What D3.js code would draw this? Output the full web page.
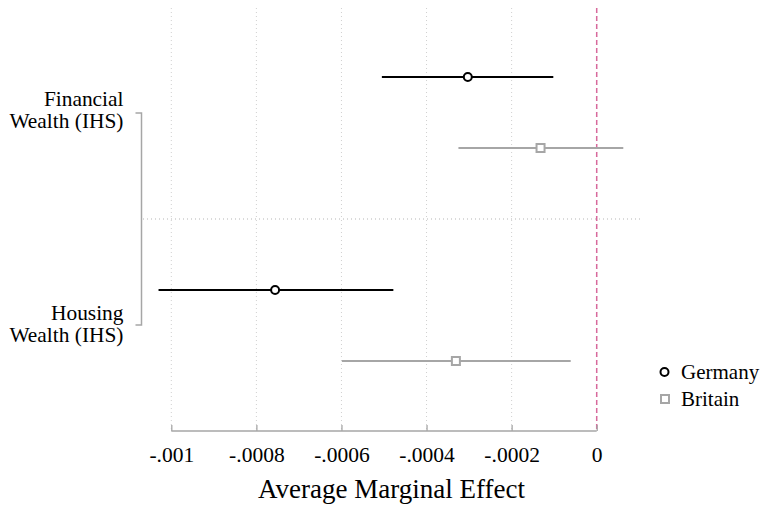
<!DOCTYPE html>
<html>
<head>
<meta charset="utf-8">
<script src="https://cdn.jsdelivr.net/npm/d3@7"></script>
<style>
  html, body { margin: 0; padding: 0; background: #fff; }
</style>
</head>
<body>
<svg id="chart" width="762" height="505"></svg>
<script>
// Coefficient plot: average marginal effects with confidence intervals
const variables = ["Financial\nWealth (IHS)", "Housing\nWealth (IHS)"];
const countries = ["Germany", "Britain"];
const estimates = {
  Germany: [-0.000303, -0.000756],
  Britain: [-0.000132, -0.000331]
};
const lowerCI = {
  Germany: [-0.000505, -0.00103],
  Britain: [-0.000325, -0.000599]
};
const upperCI = {
  Germany: [-0.000102, -0.000478],
  Britain: [0.0000625, -0.0000611]
};
const xTicks = [-0.001, -0.0008, -0.0006, -0.0004, -0.0002, 0];
const xTickLabels = ["-.001", "-.0008", "-.0006", "-.0004", "-.0002", "0"];

const FONT = "'Liberation Serif'";
const svg = d3.select("#chart");
const x = d3.scaleLinear().domain([-0.001, 0]).range([171.3, 596.7]);
// row slots: two per variable with an empty slot between the groups
const y = d3.scaleLinear().domain([0, 4]).range([77, 361]);
const rowIndex = (vi, ci) => vi * 3 + ci;

const plotTop = 8, axisY = 431, plotLeft = 143, plotRight = 640;
const colors = { Germany: "#000000", Britain: "#a6a6a6" };

// vertical dotted gridlines
svg.append("g").selectAll("line").data(xTicks).join("line")
  .attr("x1", d => x(d)).attr("x2", d => x(d))
  .attr("y1", plotTop).attr("y2", axisY)
  .attr("stroke", "#d0d0d0").attr("stroke-width", 1)
  .attr("stroke-dasharray", "1,3");

// separator between variable groups
svg.append("line")
  .attr("x1", plotLeft).attr("x2", plotRight)
  .attr("y1", y(2)).attr("y2", y(2))
  .attr("stroke", "#b5b5b5").attr("stroke-width", 1)
  .attr("stroke-dasharray", "1,3");

// reference line at zero
svg.append("line")
  .attr("x1", x(0)).attr("x2", x(0))
  .attr("y1", plotTop).attr("y2", axisY)
  .attr("stroke", "#d8699c").attr("stroke-width", 1.5)
  .attr("stroke-dasharray", "5,3");

// x axis
const xAxis = d3.axisBottom(x).tickValues(xTicks)
  .tickFormat((d, i) => xTickLabels[i]).tickSize(6).tickPadding(5);
const gx = svg.append("g").attr("transform", `translate(0,${axisY})`).call(xAxis);
gx.select(".domain").attr("stroke", "#a6a6a6").attr("stroke-width", 1.3)
  .attr("d", `M${x(-0.001)},0H${x(0)}`);
gx.selectAll(".tick line").attr("stroke", "#a6a6a6").attr("stroke-width", 1.3)
  .attr("y1", -6).attr("y2", 0);
gx.selectAll(".tick text").attr("fill", "#000").attr("dy", null).attr("y", 31)
  .style("font-family", FONT).style("font-size", "21.5px");

svg.append("text")
  .attr("x", (plotLeft + plotRight) / 2).attr("y", 498)
  .attr("text-anchor", "middle").attr("fill", "#000")
  .style("font-family", FONT).style("font-size", "27px")
  .text("Average Marginal Effect");

// group bracket and labels
const bTop = 113, bBot = 325, bX = 141.5;
svg.append("path")
  .attr("d", `M${bX - 6},${bTop}H${bX}V${bBot}H${bX - 6}`)
  .attr("fill", "none").attr("stroke", "#a6a6a6").attr("stroke-width", 1.5);

const labelBaselines = [[106, 128], [320, 342]];
variables.forEach((v, i) => {
  v.split("\n").forEach((ln, j) => {
    svg.append("text").attr("x", 123.5).attr("y", labelBaselines[i][j])
      .attr("text-anchor", "end").attr("fill", "#000")
      .style("font-family", FONT).style("font-size", "21.4px")
      .text(ln);
  });
});

// confidence intervals and point estimates
countries.forEach((c, ci) => {
  const g = svg.append("g");
  variables.forEach((v, vi) => {
    const yy = y(rowIndex(vi, ci));
    g.append("line")
      .attr("x1", x(lowerCI[c][vi])).attr("x2", x(upperCI[c][vi]))
      .attr("y1", yy).attr("y2", yy)
      .attr("stroke", colors[c]).attr("stroke-width", 2.2);
    if (c === "Germany") {
      g.append("circle").attr("cx", x(estimates[c][vi])).attr("cy", yy).attr("r", 4)
        .attr("fill", "#fff").attr("stroke", colors[c]).attr("stroke-width", 2);
    } else {
      g.append("rect").attr("x", x(estimates[c][vi]) - 4).attr("y", yy - 4)
        .attr("width", 8).attr("height", 8)
        .attr("fill", "#fff").attr("stroke", colors[c]).attr("stroke-width", 2);
    }
  });
});

// legend
const legend = svg.append("g");
countries.forEach((c, i) => {
  const ly = 372 + i * 27;
  if (c === "Germany") {
    legend.append("circle").attr("cx", 664.5).attr("cy", ly).attr("r", 4)
      .attr("fill", "#fff").attr("stroke", colors[c]).attr("stroke-width", 2);
  } else {
    legend.append("rect").attr("x", 661).attr("y", ly - 4).attr("width", 8).attr("height", 8)
      .attr("fill", "#fff").attr("stroke", colors[c]).attr("stroke-width", 2);
  }
  legend.append("text").attr("x", 681).attr("y", ly + 6.5).attr("fill", "#000")
    .style("font-family", FONT).style("font-size", "21px")
    .text(c);
});
</script>
</body>
</html>
